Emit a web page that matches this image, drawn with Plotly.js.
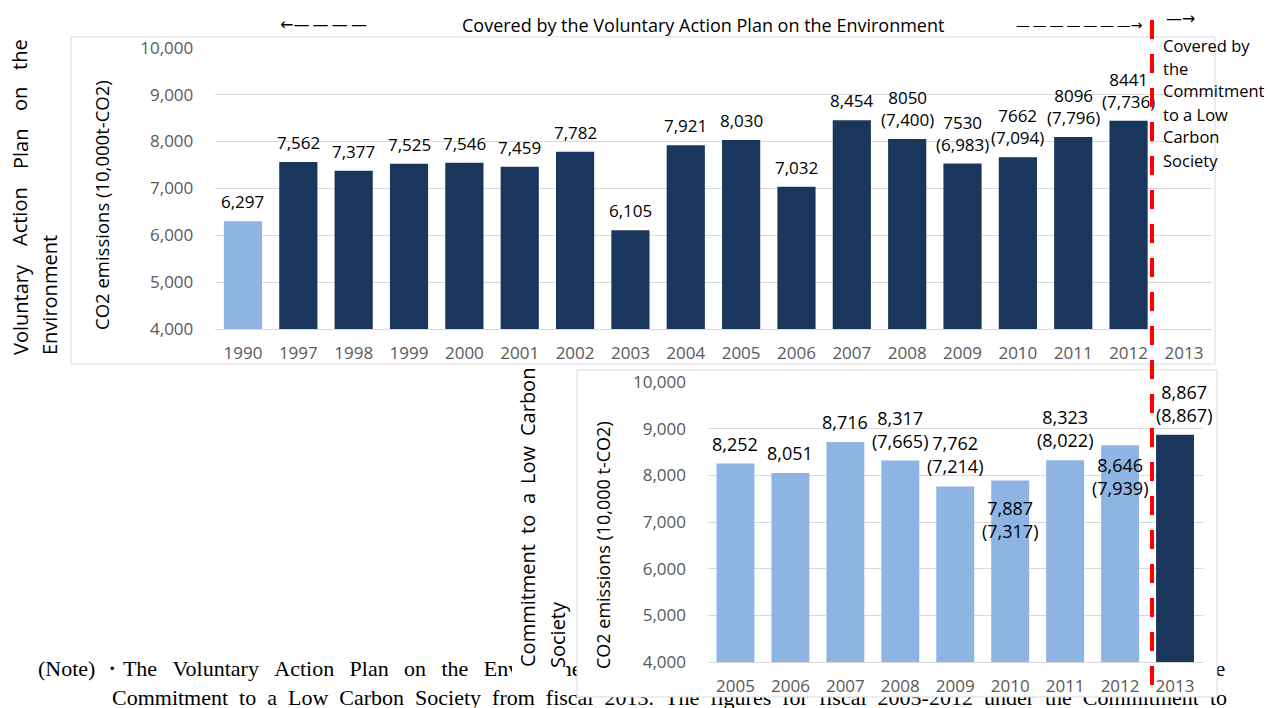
<!DOCTYPE html>
<html><head><meta charset="utf-8">
<script src="https://cdn.plot.ly/plotly-3.0.1.min.js"></script>
<style>
html,body{margin:0;padding:0;background:#fff;}
#wrap{position:relative;width:1268px;height:708px;overflow:hidden;}
#base,#over{position:absolute;left:0;top:0;width:1268px;height:708px;}
#over{pointer-events:none;}
</style></head><body>
<div id="wrap"><div id="base"></div><div id="over"></div></div>
<script>
// ---------- DATA ----------
const vapYears = ['1990','1997','1998','1999','2000','2001','2002','2003','2004','2005','2006','2007','2008','2009','2010','2011','2012','2013'];
const vapValues = [6297,7562,7377,7525,7546,7459,7782,6105,7921,8030,7032,8454,8050,7530,7662,8096,8441,null];
const vapAdjusted = [null,null,null,null,null,null,null,null,null,null,null,null,7400,6983,7094,7796,7736,null];
const clsYears = ['2005','2006','2007','2008','2009','2010','2011','2012','2013'];
const clsValues = [8252,8051,8716,8317,7762,7887,8323,8646,8867];
const clsAdjusted = [null,null,null,7665,7214,7317,8022,7939,8867];
const yTickValues = [4000,5000,6000,7000,8000,9000,10000];

const headerText = 'Covered by the Voluntary Action Plan on the Environment';
const sideTextLines = ['Covered by','the','Commitment','to a Low','Carbon','Society'];
const topTitleWords = ['Voluntary','Action','Plan','on','the'];
const topTitleLine2 = 'Environment';
const lowTitleWords = ['Commitment','to','a','Low','Carbon'];
const lowTitleLine2 = 'Society';
const topYTitle = 'CO2 emissions (10,000t-CO2)';
const lowYTitle = 'CO2 emissions (10,000 t-CO2)';
const noteLine1a = ['(Note) ・The','Voluntary','Action','Plan','on','the','Environment','was'];
const noteLine1b = ['replaced','by','the'];
const noteLine2 = ['Commitment','to','a','Low','Carbon','Society','from','fiscal','2013.','The','figures','for','fiscal','2005-2012','under','the','Commitment','to'];

// ---------- STYLE ----------
const W = 1268, H = 708;
const FONT = '"Open Sans", sans-serif';
const ARROWFONT = '"DejaVu Sans", sans-serif';
const SERIF = '"Liberation Serif", "Times New Roman", serif';
const NAVY = '#1B365D', LIGHT = '#8EB4E3', GRID = '#D9D9D9', TICK = '#595959';
const vapColors = vapYears.map(y => y === '1990' ? LIGHT : NAVY);
const clsColors = clsYears.map(y => y === '2013' ? NAVY : LIGHT);
const clsInsideShift = {'2010': -13, '2012': -6};
const clsXShift = {'2013': 9};
const SEP = '\u00A0\u00A0';
const SEP1 = '\u00A0\u00A0\u2009';

const fmt = v => v.toLocaleString('en-US');
const px = x => x / W;
const py = y => 1 - y / H;
function txt(text, x, y, o) {
  return Object.assign({text: text, xref: 'paper', yref: 'paper', x: px(x), y: py(y),
    showarrow: false, xanchor: 'center', yanchor: 'middle',
    font: {family: FONT, size: 16, color: '#000'}}, o || {});
}

// ---------- BASE (top chart + texts) ----------
const ann1 = [];
vapValues.forEach((v, i) => {
  if (v == null) return;
  const a = vapAdjusted[i];
  const t = a != null ? (String(v) + '<br>(' + fmt(a) + ')') : fmt(v);
  ann1.push({text: t, xref: 'x', yref: 'y', x: i, y: v, showarrow: false,
    xanchor: 'center', yanchor: 'bottom', yshift: 6,
    font: {family: FONT, size: 17, color: '#000'}});
});
// header
ann1.push(txt('←—\u2009—\u2009—\u2009—', 323, 25, {font: {family: ARROWFONT, size: 16, color: '#000'}}));
ann1.push(txt(headerText, 703, 25, {font: {family: FONT, size: 18, color: '#000'}}));
ann1.push(txt('—\u2009—\u2009—\u2009—\u2009—\u2009—\u2009—→', 1079, 25, {font: {family: ARROWFONT, size: 14, color: '#000'}}));
ann1.push(txt('—→', 1180, 18, {font: {family: ARROWFONT, size: 16, color: '#000'}}));
sideTextLines.forEach((s, i) => ann1.push(txt(s, 1161, 45 + i * 23, {xanchor: 'left', font: {family: FONT, size: 16.5, color: '#000'}})));
// left rotated title (justified words)
const topWordY = [310, 217, 149, 99, 55];
topTitleWords.forEach((w, i) => ann1.push(txt(w, 20, topWordY[i], {textangle: -90, font: {family: FONT, size: 20, color: '#000'}})));
ann1.push(txt(topTitleLine2, 49, 295, {textangle: -90, font: {family: FONT, size: 20, color: '#000'}}));
ann1.push(txt(topYTitle, 102, 205, {textangle: -90, font: {family: FONT, size: 18.5, color: '#000'}}));
// note
ann1.push(txt(noteLine1a.join(SEP1), 36, 668, {xanchor: 'left', font: {family: SERIF, size: 22, color: '#000'}}));
ann1.push(txt(noteLine1b.join(SEP1), 1227, 668, {xanchor: 'right', font: {family: SERIF, size: 22, color: '#000'}}));
ann1.push(txt(noteLine2.join(SEP), 110, 697, {xanchor: 'left', font: {family: SERIF, size: 22, color: '#000'}}));

const layout1 = {
  width: W, height: H, margin: {l: 0, r: 0, t: 0, b: 0},
  paper_bgcolor: '#fff', plot_bgcolor: 'rgba(0,0,0,0)', showlegend: false,
  font: {family: FONT, color: '#000'},
  bargap: 0.31,
  xaxis: {domain: [px(215.3), px(1211.6)], type: 'category', range: [-0.5, 17.5],
    showgrid: false, showline: true, linecolor: GRID, linewidth: 1, ticks: '',
    ticklabelstandoff: 9, tickfont: {family: FONT, size: 17, color: TICK}, fixedrange: true},
  yaxis: {domain: [py(329), py(47.7)], range: [4000, 10000], tickvals: yTickValues, tickformat: ',',
    showgrid: true, gridcolor: GRID, gridwidth: 1, zeroline: false, showline: false, ticks: '',
    ticklabelstandoff: 21, tickfont: {family: FONT, size: 17, color: TICK}, fixedrange: true},
  shapes: [{type: 'rect', xref: 'paper', yref: 'paper', x0: px(71), x1: px(1215), y0: py(364), y1: py(37),
    line: {color: GRID, width: 1}, fillcolor: '#fff', layer: 'below'}],
  annotations: ann1
};
const trace1 = {type: 'bar', x: vapYears, y: vapValues, marker: {color: vapColors}, hoverinfo: 'skip', cliponaxis: false};

// ---------- OVERLAY (lower chart + dashed divider) ----------
const ann2 = [];
clsValues.forEach((v, i) => {
  const a = clsAdjusted[i];
  const t = a != null ? (fmt(v) + '<br>(' + fmt(a) + ')') : fmt(v);
  const yr = clsYears[i];
  const inside = clsInsideShift[yr] !== undefined;
  ann2.push({text: t, xref: 'x', yref: 'y', x: i, y: v, showarrow: false,
    xanchor: 'center', yanchor: inside ? 'top' : 'bottom', yshift: inside ? clsInsideShift[yr] : 6,
    xshift: clsXShift[yr] || 0,
    font: {family: FONT, size: 18, color: '#000'}});
});
const lowWordY = [606, 525, 499, 465, 402];
lowTitleWords.forEach((w, i) => ann2.push(txt(w, 527, lowWordY[i], {textangle: -90, font: {family: FONT, size: 20, color: '#000'}})));
ann2.push(txt(lowTitleLine2, 557, 635, {textangle: -90, font: {family: FONT, size: 20, color: '#000'}}));
ann2.push(txt(lowYTitle, 603, 545, {textangle: -90, font: {family: FONT, size: 18, color: '#000'}}));

const layout2 = {
  width: W, height: H, margin: {l: 0, r: 0, t: 0, b: 0},
  paper_bgcolor: 'rgba(0,0,0,0)', plot_bgcolor: 'rgba(0,0,0,0)', showlegend: false,
  font: {family: FONT, color: '#000'},
  bargap: 0.31,
  xaxis: {domain: [px(708), px(1202.5)], type: 'category', range: [-0.5, 8.5],
    showgrid: false, showline: true, linecolor: GRID, linewidth: 1, ticks: '',
    ticklabelstandoff: 9, tickfont: {family: FONT, size: 17, color: TICK}, fixedrange: true},
  yaxis: {domain: [py(662), py(382)], range: [4000, 10000], tickvals: yTickValues, tickformat: ',',
    showgrid: true, gridcolor: GRID, gridwidth: 1, zeroline: false, showline: false, ticks: '',
    ticklabelstandoff: 21, tickfont: {family: FONT, size: 17, color: TICK}, fixedrange: true},
  shapes: [
    {type: 'rect', xref: 'paper', yref: 'paper', x0: px(512), x1: px(566), y0: py(686), y1: py(365),
      line: {width: 0}, fillcolor: '#fff', layer: 'below'},
    {type: 'rect', xref: 'paper', yref: 'paper', x0: px(577), x1: px(1217), y0: py(697), y1: py(370),
      line: {color: GRID, width: 1}, fillcolor: '#fff', layer: 'below'},
    {type: 'line', xref: 'paper', yref: 'paper', x0: px(1152), x1: px(1152), y0: py(20), y1: py(697),
      line: {color: '#FF0000', width: 4, dash: '19px,15px'}, layer: 'above'}
  ],
  annotations: ann2
};
const trace2 = {type: 'bar', x: clsYears, y: clsValues, marker: {color: clsColors}, hoverinfo: 'skip', cliponaxis: false};

Plotly.newPlot('base', [trace1], layout1, {staticPlot: true, displayModeBar: false});
Plotly.newPlot('over', [trace2], layout2, {staticPlot: true, displayModeBar: false});
</script>
</body></html>
